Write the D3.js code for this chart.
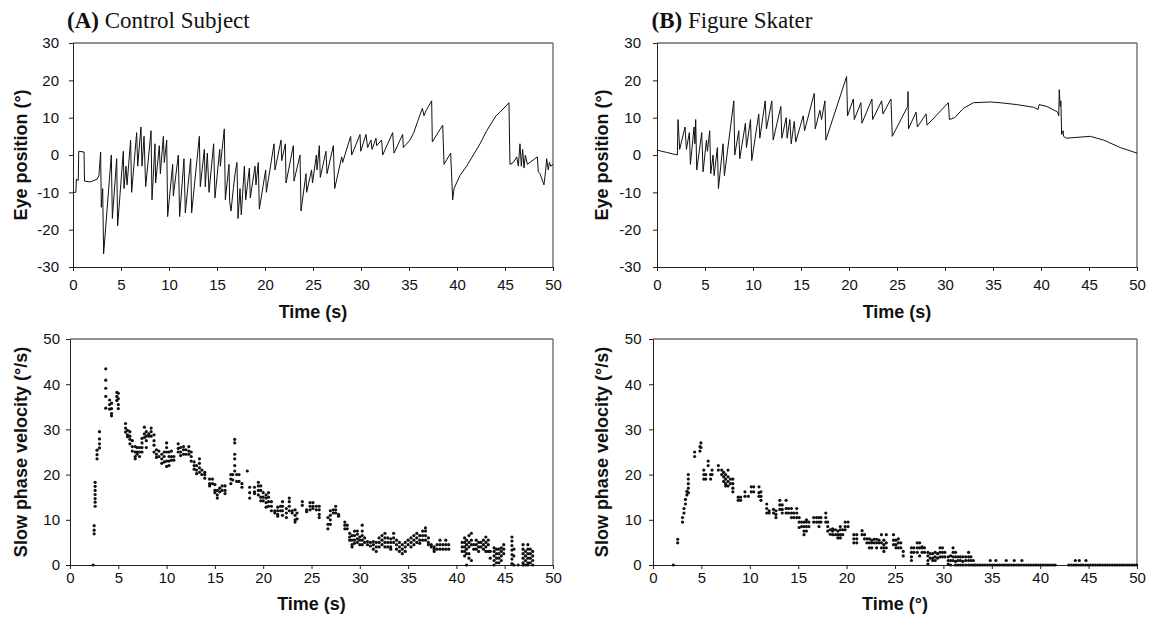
<!DOCTYPE html>
<html>
<head>
<meta charset="utf-8">
<title>Eye position and slow phase velocity</title>
<script src="https://cdn.jsdelivr.net/npm/d3@7"></script>
<style>
body { margin: 0; background: #fff; }
svg text { font-family: "Liberation Sans", Arial, sans-serif; fill: #111; }
</style>
</head>
<body>
<svg id="chart" width="1149" height="619"></svg>
<script>
// tick values
const timeTicks = [0, 5, 10, 15, 20, 25, 30, 35, 40, 45, 50];
const posTicks = [-30, -20, -10, 0, 10, 20, 30];
const velTicks = [0, 10, 20, 30, 40, 50];

// (A) control subject, eye position [time s, position deg]
const eyeA = [[0,-10],[0.3,-10],[0.35,-6.5],[0.55,-6.8],[0.6,1],[1.15,0.8],[1.2,-7],[1.8,-7.2],[2.5,-6.5],[2.7,-5.5],
  [2.88,0.8],[2.95,-14],[3.09,-9],[3.19,-26.5],[3.99,0],[4.1,-17],[4.55,-1],[4.65,-19],[5.24,1],[5.31,-9],[5.52,-3],
  [5.63,-8],[6.0,4],[6.11,-10],[6.63,6],[6.74,-3],[7.08,7.5],[7.19,-3],[7.4,5],[7.57,-8.5],[8.13,6.5],[8.23,-12],
  [8.54,3],[8.61,-7.5],[8.99,2.5],[9.1,-5],[9.41,5],[9.51,-2],[9.76,4],[9.86,-16.5],[10.38,-2.5],[10.45,-11],
  [10.97,0],[11.11,-16.5],[11.56,-1],[11.7,-15.5],[12.26,-1],[12.36,-15.5],[13.16,5],[13.26,-8.5],[13.68,1.5],
  [13.78,-8.5],[13.99,0.5],[14.17,-10],[14.65,3],[14.79,-11.5],[15.28,1.5],[15.35,-3],[15.76,7],[15.87,-12],
  [16.25,-2.5],[16.32,-12.5],[16.46,-15],[16.7,-9],[16.88,-5],[17.08,-2],[17.19,-17],[17.4,-9],[17.53,-16],
  [17.85,-3],[17.99,-12],[18.37,-3.5],[18.47,-11.5],[18.96,-3],[19.06,-8],[19.3,-2],[19.41,-14.5],[20.07,-4],
  [20.14,-10],[20.94,3],[21.04,-4],[21.67,4],[21.74,-1.5],[22.12,3],[22.19,-7.5],[22.95,2.5],[23.02,-7],[23.65,0],
  [23.75,-15],[24.27,-5],[24.34,-10],[24.85,-4],[24.95,-7.5],[25.35,0],[25.42,-4],[25.66,2.5],[25.76,-6],[26.35,1],
  [26.46,-5],[27.12,2.5],[27.26,-9],[27.99,-0.5],[28.09,-2],[28.92,5],[29.03,0],[29.9,5.5],[29.97,1],[30.52,5.5],
  [30.69,2],[31.04,4],[31.15,1.5],[31.56,4.5],[31.63,2.5],[32.15,4],[32.26,0],[33.3,6],[33.44,0.5],[34.34,5.5],
  [34.41,2],[35.1,4],[35.5,6],[35.9,9],[36.39,12.5],[36.56,10.5],[36.8,12],[37.36,14.5],[37.43,3.5],[38.51,8],
  [38.65,-2.5],[39.34,0.5],[39.55,-12],[39.69,-9],[40.3,-5.5],[41.0,-3],[41.7,0],[42.4,3],[43.1,6.5],[44.06,10.5],
  [44.5,11.5],[45.41,14],[45.52,-2.5],[45.87,-2],[46.22,-0.5],[46.39,-3],[46.56,3],[46.7,-3],[46.84,1.5],[46.98,-3.5],
  [47.12,0],[47.33,-2.5],[48.37,-0.5],[48.47,-4.5],[48.65,-5],[48.92,-7],[49.06,-8],[49.24,-4],[49.34,-1],[49.51,-4],
  [49.62,-2],[49.76,-3],[50,-2.5]];

// (B) figure skater, eye position [time s, position deg]
const eyeB = [[0,1.3],[1,0.7],[2.12,0],[2.19,9.5],[2.36,1.5],[2.92,7.5],[3.06,1.5],[3.37,6],[3.48,-2.5],[3.86,7.5],
  [3.95,3],[4.03,9.5],[4.14,-4],[4.66,6],[4.8,-4.5],[5.15,4],[5.25,1],[5.49,6.5],[5.6,-5],[5.84,0],[5.95,-5.5],
  [6.29,2],[6.4,-9],[6.88,3],[7.02,-5.5],[8.0,14.5],[8.1,0],[8.52,6.5],[8.62,-1],[9.21,8.5],[9.32,2],[9.74,9.5],
  [9.87,-1.5],[10.6,11],[10.71,4.5],[11.27,14.5],[11.4,7],[11.96,14.5],[12.1,4],[12.9,13],[13.0,4.5],[13.46,10],
  [13.56,4.5],[13.84,9.5],[13.98,3],[14.3,9],[14.45,3.5],[15.23,10.5],[15.37,6.5],[16.38,16.5],[16.48,7],[16.97,12],
  [17.14,9.5],[17.49,14.5],[17.59,4],[19.75,21],[19.85,10.5],[20.45,15],[20.55,9.5],[21.24,14],[21.35,8.5],[22.39,15],
  [22.46,9.5],[23.4,14.5],[23.54,11],[24.37,15],[24.51,5],[26.11,13],[26.15,17],[26.2,7],[26.98,11.5],[27.12,7.5],
  [28.03,11],[28.13,8],[30.35,14],[30.46,9.5],[31.0,10],[31.92,12.5],[32.96,14],[34.7,14.2],[35.74,14],[37.48,13.5],
  [39.22,12.8],[39.7,12.2],[39.8,13.5],[40.61,13],[41.73,11.5],[41.85,10.5],[41.9,17.5],[42.0,13],[42.07,14.5],
  [42.15,5.5],[42.3,6.5],[42.35,5],[42.63,4.5],[45.13,5],[46.52,4],[48.26,2],[50,0.5]];

// (A) slow phase velocity, one row per time column: [time s, velocities deg/s ...]
const spvA = [[2.4,0],[2.5,8.7,7.7,6.9],[2.6,18.3,17.4,16.5,15.6,14.7,13.9,13.0],[2.8,25.4,24.4,23.5],
  [3.05,29.5,27.9,26.8,25.9],[3.7,43.4,40.9,39.1,37.3,34.7],[4.1,36.5,35.5,34.5],[4.3,35.8,34.6,33.5,33.0],
  [4.85,38.2,37.3,36.4],[5.0,38.0,36.8,35.5,34.6],[5.75,31.3,30.3,29.4],[5.95,29.8,28.8,28.4],
  [6.2,29.5,28.5,27.8,26.8],[6.45,27.5,26.2,25.2],[6.75,26.2,25.0,24.0,23.5],[6.95,26.0,25.0,24.5],
  [7.2,26.0,25.0,24.0],[7.45,28.0,27.0,26.0,25.0],[7.7,30.5,29.0,28.2],[7.9,29.5,28.5,27.5,26.0],[8.15,29.0,28.5],
  [8.4,30.3,29.5,28.5],[8.7,28.8,27.5,26.5,25.0],[8.95,25.5,24.5,23.8],[9.2,25.2,24.0],[9.5,24.5,23.5,22.5],
  [9.75,25.0,24.0,22.8],[10.0,27.0,26.0,25.0,23.0,21.8],[10.25,25.0,24.0,23.0,22.0],[10.5,25.2,24.0,23.2],
  [10.75,24.0,23.2],[11.2,26.8,25.8,25.0],[11.45,26.0,25.0,24.2],[11.75,26.2,25.5,24.5],[12.0,25.5,24.5],
  [12.3,26.2,25.2,24.5],[12.55,25.0,24.0,23.0],[12.85,22.8,22.0,21.2],[13.1,22.0,21.0,20.2],
  [13.4,23.5,22.5,21.5,20.5],[13.65,21.0,20.0],[13.95,20.5,20.0,19.2],[14.45,19.0,18.0,17.5],[14.75,19.0,18.0],
  [15.0,17.8,16.5,16.0],[15.25,16.5,15.5,14.8],[15.5,17.0,16.2],[15.75,17.5,16.5],[16.05,17.5,16.5,15.8],
  [16.65,20.0,19.0,18.0],[16.85,20.0,18.8],[17.05,27.8,27.0,24.5,23.5,22.0,20.8],[17.25,20.0,18.5],[17.5,20.0,18.5],
  [17.8,18.0,17.2],[18.35,20.8],[18.6,17.2,16.0,14.8],[19.1,17.2,16.2,15.8],[19.5,18.3,17.5,16.5,15.5],
  [19.75,17.5,16.5,15.0,14.2],[20.0,16.0,15.0,14.2],[20.3,15.5,14.8,13.8,12.8],[20.55,16.0,15.0,14.0,13.0],
  [20.85,14.0,13.0,12.0],[21.2,12.0,11.5],[21.5,12.8,12.0,11.2,10.8],[21.8,13.0,12.0],[22.0,14.0,13.0,12.0,11.0],
  [22.4,12.5,11.5,10.5],[22.7,14.8,14.0,13.0,12.0],[23.0,12.0,11.5],[23.3,12.2,11.0,10.0,9.5],[23.5,11.5,10.2],
  [24.05,14.0,13.2],[24.5,12.2,11.8],[24.85,13.8,13.0,12.2],[25.15,13.8,13.0,12.5],[25.5,13.0,12.2],
  [25.8,13.0,12.2,11.2,10.5],[26.7,10.5,9.0,8.0],[26.95,12.0,11.0,10.0,9.0],[27.25,12.2,11.5],[27.5,13.0,12.2,11.5],
  [27.8,11.2,10.8],[28.45,9.5,8.8,8.0],[28.7,8.8,8.0],[28.95,7.0,6.2,5.5],[29.2,6.5,5.5,4.5,4.0],
  [29.45,7.5,6.5,5.5,4.8],[29.75,7.5,6.8,5.8,5.0],[30.0,6.2,5.5,4.5],[30.25,8.8,7.5,6.5,5.5,4.5],[30.5,6.0,5.0],
  [30.8,5.2,4.5],[31.1,5.0,4.2],[31.4,5.2,4.5,3.5],[31.7,5.0,4.0,3.0],[32.0,6.0,5.0,4.0],[32.3,6.5,5.5,4.5],
  [32.6,7.0,6.0,5.0,4.0],[32.9,6.0,5.0,4.0],[33.2,5.8,5.0,4.0,3.5],[33.5,7.0,6.0,5.0],[33.8,5.5,4.5,3.5],
  [34.1,5.0,4.0,3.0],[34.4,4.5,3.5,2.5],[34.7,5.0,4.0,3.0],[35.0,5.5,4.5],[35.3,6.0,5.0,4.0],[35.6,6.5,5.5,4.5],
  [35.9,7.0,6.0,5.0],[36.2,6.5,5.5,4.8],[36.5,7.5,6.5,5.5],[36.8,8.2,7.5,6.5,5.5],[37.1,6.0,5.0,4.5],[37.4,4.5,4.0],
  [37.7,4.0,3.5,3.0],[38.0,4.5,3.5],[38.3,5.5,4.5,3.5],[38.6,4.5,3.5],[38.9,5.5,4.5,3.5],[39.2,4.5,3.5],
  [40.6,5.0,4.0,3.0],[40.85,6.0,5.0,4.0,3.0,2.0],[41.05,5.5,4.5,3.5,2.5,0.0],[41.3,6.5,5.0,4.0,2.5,1.5],
  [41.55,7.0,5.5,4.5,1.0],[41.8,4.5,3.5],[42.05,5.5,4.5,3.5],[42.3,5.0,4.0,3.0],[42.55,5.0,4.0],[42.8,5.5,4.5,3.5],
  [43.05,6.2,5.0,4.0,3.0],[43.3,5.5,4.5,3.0],[43.5,3.0,1.5],[43.9,3.8,3.0,2.0,1.0,0.0],[44.15,3.5,2.5,1.5,0.5],
  [44.4,3.5,2.5,1.5,0.5],[44.65,3.8,3.0,2.0,1.0],[44.9,4.5,3.5,2.5],[45.75,6.2,5.3,4.3,3.3,2.3,1.3,0.3],
  [45.95,3.5,2.0,0.0],[46.4,0.0],[46.9,4.5,3.5,2.5,1.5,0.5,0.0],[47.15,3.0,2.0,1.0,0.0],
  [47.4,4.5,3.5,2.5,1.5,0.5,0.0],[47.65,3.5,2.5,1.5,0.5],[47.9,3.0,2.0,1.0,0.0]];

// (B) slow phase velocity, same layout
const spvB = [[2.1,0],[2.55,5.7,4.9],[3.05,10.5,9.5],[3.2,12.5,11.5],[3.35,14.5,13.5],[3.5,16.3,15.5],
  [3.65,20.0,19.0,18.0,17.0,16.0],[4.3,25.0,24.0],[4.85,26.2,25.2],[4.95,27.0,26.0],[5.25,21.0,20.0,19.0],
  [5.45,20.0,19.0],[5.7,23.0,22.0],[5.95,20.0,19.0],[6.1,21.0,20.0],[6.75,22.0,21.0],[7.1,21.0,20.0],
  [7.3,20.5,19.5,18.5],[7.5,20.0,19.0,18.0,17.5],[7.75,21.0,19.5,18.5,17.5],[8.0,19.0,18.0],
  [8.25,19.0,18.0,17.0,16.2],[8.8,15.0,14.3],[9.05,15.0,14.3],[9.5,16.2,15.2],[9.85,15.2],[10.15,17.3,16.2],
  [10.4,17.3,16.2],[10.95,17.3,16.0,15.2],[11.15,16.2,15.2,14.3],[11.75,13.5,12.5,11.5],[12.0,12.0,11.5],
  [12.45,12.3,11.5],[12.7,12.0,11.2,10.5],[13.1,14.3,13.3,12.3],[13.35,13.3,12.3,11.5],[13.75,14.3,12.5,11.5],
  [14.0,12.5,11.5],[14.3,12.5,11.5,10.5],[14.55,11.5,10.5],[14.85,12.5,11.5,10.5],[15.1,10.5,9.5,8.3],
  [15.35,9.5,8.5],[15.6,9.5,8.5,7.5,6.7],[15.85,10.0,9.5,8.5,7.5],[16.1,9.5,8.5],[16.6,10.5,9.5],[16.9,10.5,9.5],
  [17.15,10.5,9.5,8.5],[17.35,10.5,9.5],[17.85,11.5,10.5,9.5],[18.05,9.5,8.5,7.5],[18.3,7.8,6.8],
  [18.55,8.0,7.5,6.7],[18.85,7.8,6.7],[19.1,7.5,6.7,6.0],[19.35,8.5,7.8,6.7,6.0],[19.6,7.8,6.7],
  [19.85,9.5,8.5,7.8],[20.15,9.5,8.5],[20.75,6.7,5.8,4.9],[21.05,6.7,5.8,4.9],[21.6,7.6,6.7],[21.85,6.7,5.8],
  [22.1,5.8,4.9],[22.35,5.8,4.9,3.8],[22.6,5.5,4.9,3.8],[22.85,5.7,4.9],[23.1,5.7,4.9,3.8],[23.35,5.5,4.9],
  [23.6,6.7,4.9,3.8],[23.85,5.5,4.5,3.8,3.0],[24.1,6.7,4.9,3.8],[24.85,6.7,5.5,4.5],[25.1,5.5,4.5,3.8],
  [25.35,5.8,4.9,3.8],[25.6,4.9,3.8],[25.85,3.0,2.0],[26.7,3.8,2.8,1.8,1.0],[26.95,3.8,2.8],[27.3,4.9,3.8,2.8],
  [27.55,4.9,3.8,2.0],[27.8,4.0,3.8,2.8],[28.05,3.8,2.8],[28.4,2.8,2.0,1.0,0.2],[28.65,2.5,1.5],[28.9,2.5,1.5,1.0],
  [29.15,2.8,1.8,1.0],[29.4,2.5,1.5],[29.65,3.8,2.8,1.8],[29.9,3.8,2.8,1.8],[30.15,2.8,1.8],[30.5,1.8,1.0,0.2],
  [30.75,2.0,1.0,0.0],[31.0,3.8,2.8,1.8,1.0],[31.25,2.8,1.8,0.8,0.0],[31.5,1.8,1.0,0.0],[31.75,1.8,1.0,0.0],
  [32.0,1.8,0.8,0.0],[32.3,1.8,1.0,0.0],[32.6,2.8,1.8,1.0,0.0],[32.85,1.8,1.0,0.0],[33.1,1.0,0.0],
  [34.84,1.0],[35.42,1.0],[36.49,1.0],[37.32,1.0],[38.11,1.0],[43.63,1.0],[44.04,1.0],[44.73,1.0]];

// (B) times where slow phase velocity sits on zero
const zeroB = [33.3,33.55,33.8,34.05,34.3,34.55,34.8,35.05,35.3,35.55,35.8,36.05,36.3,36.55,36.8,37.05,37.3,
  37.55,37.8,38.05,38.3,38.55,38.8,39.05,39.3,39.55,39.8,40.05,40.3,40.55,40.8,41.05,41.3,41.55,
  42.95,43.2,43.45,43.7,43.95,44.2,44.45,44.7,44.95,45.2,45.45,45.7,45.95,46.2,46.45,46.7,46.95,47.2,
  47.45,47.7,47.95,48.2,48.45,48.7,48.95,49.2,49.45,49.7,49.95];

const svg = d3.select('#chart');

// draws frame + axes for one panel, returns the scales
function panel(o) {
  var x = d3.scaleLinear().domain([0, 50]).range([o.left, o.right]);
  var y = d3.scaleLinear().domain(o.yDomain).range([o.bottom, o.top]);

  // top and right frame lines
  svg.append('line')
    .attr('x1', o.left).attr('x2', o.right).attr('y1', o.top).attr('y2', o.top)
    .attr('stroke', '#222').attr('stroke-width', 1);
  svg.append('line')
    .attr('x1', o.right).attr('x2', o.right).attr('y1', o.top).attr('y2', o.bottom)
    .attr('stroke', '#808080').attr('stroke-width', 1.6);

  var gx = svg.append('g')
    .attr('transform', 'translate(0,' + o.bottom + ')')
    .call(d3.axisBottom(x).tickValues(timeTicks).tickSize(4).tickSizeOuter(0)
      .tickPadding(o.xPad).tickFormat(d => String(d)));
  var gy = svg.append('g')
    .attr('transform', 'translate(' + o.left + ',0)')
    .call(d3.axisLeft(y).tickValues(o.yTicks).tickSize(4).tickSizeOuter(0)
      .tickPadding(o.yPad).tickFormat(d => String(d)));
  [gx, gy].forEach(g => {
    g.attr('font-size', 15).attr('font-family', '"Liberation Sans", Arial, sans-serif');
    g.selectAll('path, line').attr('stroke', '#222');
  });

  // axis titles
  svg.append('text')
    .attr('x', (o.left + o.right) / 2).attr('y', o.xTitleY)
    .attr('text-anchor', 'middle').attr('font-size', 18).attr('font-weight', 'bold')
    .text(o.xTitle);
  svg.append('text')
    .attr('transform', 'translate(' + o.yTitleX + ',' + (o.top + o.bottom) / 2 + ') rotate(-90)')
    .attr('text-anchor', 'middle').attr('font-size', 18).attr('font-weight', 'bold')
    .text(o.yTitle);

  return { x: x, y: y };
}

function drawLine(s, rows) {
  svg.append('path')
    .datum(rows)
    .attr('fill', 'none').attr('stroke', '#111').attr('stroke-width', 1)
    .attr('d', d3.line().x(d => s.x(d[0])).y(d => s.y(d[1])));
}

function drawDots(s, cols, zeros) {
  var pts = [];
  cols.forEach(c => { c.slice(1).forEach(v => pts.push([c[0], v])); });
  (zeros || []).forEach(t => pts.push([t, 0]));
  svg.append('g').selectAll('circle')
    .data(pts).enter().append('circle')
    .attr('cx', d => s.x(d[0])).attr('cy', d => s.y(d[1]))
    .attr('r', 1.6).attr('fill', '#111');
}

function title(x, label, name) {
  var t = svg.append('text')
    .attr('x', x).attr('y', 28).attr('font-size', 23)
    .style('font-family', '"Liberation Serif", "Times New Roman", serif');
  t.append('tspan').attr('font-weight', 'bold').text(label);
  t.append('tspan').text(' ' + name);
}

// (A) control subject
title(67, '(A)', 'Control Subject');
var pA1 = panel({ left: 73, right: 553, top: 43, bottom: 267, yDomain: [-30, 30], yTicks: posTicks,
  xPad: 8, yPad: 10, xTitle: 'Time (s)', xTitleY: 318, yTitle: 'Eye position (\u00b0)', yTitleX: 26.5 });
drawLine(pA1, eyeA);
var pA2 = panel({ left: 70, right: 553, top: 339, bottom: 565, yDomain: [0, 50], yTicks: velTicks,
  xPad: 3, yPad: 6, xTitle: 'Time (s)', xTitleY: 609.5, yTitle: 'Slow phase velocity (\u00b0/s)', yTitleX: 26.5 });
drawDots(pA2, spvA);

// (B) figure skater
title(651.5, '(B)', 'Figure Skater');
var pB1 = panel({ left: 657, right: 1137, top: 43, bottom: 267, yDomain: [-30, 30], yTicks: posTicks,
  xPad: 8, yPad: 12, xTitle: 'Time (s)', xTitleY: 318, yTitle: 'Eye position (\u00b0)', yTitleX: 608 });
drawLine(pB1, eyeB);
var pB2 = panel({ left: 653, right: 1137, top: 339, bottom: 565, yDomain: [0, 50], yTicks: velTicks,
  xPad: 3, yPad: 7.5, xTitle: 'Time (\u00b0)', xTitleY: 609.5, yTitle: 'Slow phase velocity (\u00b0/s)', yTitleX: 608 });
drawDots(pB2, spvB, zeroB);
</script>
</body>
</html>
